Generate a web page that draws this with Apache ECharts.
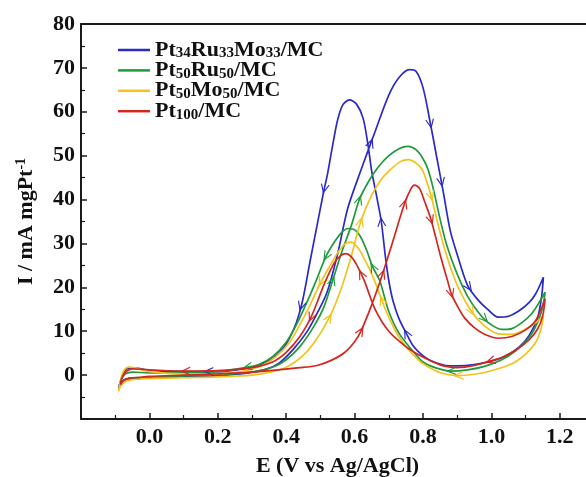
<!DOCTYPE html>
<html>
<head>
<meta charset="utf-8">
<script src="https://cdn.jsdelivr.net/npm/echarts@6/dist/echarts.min.js"></script>
<style>
  html, body { margin: 0; padding: 0; background: #fff; overflow: hidden; }
  #chart { width: 586px; height: 477px; }
</style>
</head>
<body>
<div id="chart"></div>
<script>
// Catalyst names (legend order) and line colours
const catalystNames = ['Pt34Ru33Mo33/MC', 'Pt50Ru50/MC', 'Pt50Mo50/MC', 'Pt100/MC'];
const catalystColors = ['#2a2ac6', '#1f9a3a', '#f3c21c', '#d3261f'];

// Tick labels
const xTickLabels = ['0.0', '0.2', '0.4', '0.6', '0.8', '1.0', '1.2'];
const yTickLabels = ['0', '10', '20', '30', '40', '50', '60', '70', '80'];

// Cyclic voltammograms, [E (V vs Ag/AgCl), I (mA mgPt-1)]
// forward (anodic) scan, E increasing
const ptRuMoFwd = [[-0.09,-3.0],[-0.085,-1.8],[-0.075,-1.1],[-0.06,-0.8],[-0.03,-0.7],[0.0,-0.6],[0.1,-0.4],[0.2,-0.1],[0.28,0.4],[0.34,1.3],[0.38,2.8],[0.42,5.8],[0.46,9.8],[0.49,14.0],[0.52,19.0],[0.55,27.5],[0.58,38.0],[0.62,47.0],[0.66,55.5],[0.70,63.8],[0.73,67.8],[0.76,69.6],[0.78,69.2],[0.80,65.5],[0.82,58.0],[0.84,49.7],[0.86,41.4],[0.88,32.8],[0.90,27.5],[0.93,20.5],[0.96,17.2],[0.99,14.9],[1.02,13.2],[1.05,13.4],[1.08,14.6],[1.11,16.5],[1.13,18.6],[1.152,22.3]];
// reverse (cathodic) scan, E decreasing
const ptRuMoRev = [[1.152,22.3],[1.147,18.0],[1.135,13.0],[1.11,9.0],[1.08,6.3],[1.04,4.3],[1.0,3.2],[0.95,2.4],[0.90,2.1],[0.86,2.3],[0.82,3.4],[0.795,4.7],[0.77,6.8],[0.75,9.7],[0.73,12.8],[0.712,17.0],[0.70,21.5],[0.69,27.0],[0.678,35.0],[0.665,40.5],[0.65,46.5],[0.64,52.0],[0.625,58.5],[0.605,61.8],[0.585,62.7],[0.565,61.5],[0.55,58.0],[0.535,52.0],[0.52,45.5],[0.51,42.0],[0.49,34.0],[0.47,26.0],[0.448,17.0],[0.43,12.0],[0.41,8.5],[0.39,6.0],[0.36,3.8],[0.32,2.3],[0.28,1.5],[0.2,0.8],[0.1,0.8],[0.0,1.1],[-0.04,1.6],[-0.06,1.6],[-0.075,0.6],[-0.085,-1.5],[-0.09,-3.0]];

const ptRuFwd = [[-0.088,-2.6],[-0.08,-1.5],[-0.065,-0.9],[-0.03,-0.6],[0.0,-0.5],[0.1,-0.2],[0.2,0.1],[0.3,0.7],[0.36,1.8],[0.40,3.5],[0.44,6.5],[0.48,11.0],[0.51,15.5],[0.536,21.6],[0.56,27.5],[0.59,34.0],[0.614,40.0],[0.64,44.0],[0.668,47.3],[0.70,50.0],[0.73,51.6],[0.756,52.1],[0.78,51.3],[0.80,49.3],[0.815,46.8],[0.83,42.5],[0.85,35.5],[0.87,29.5],[0.90,23.0],[0.93,18.0],[0.96,14.5],[0.99,12.0],[1.03,10.4],[1.06,10.6],[1.09,12.0],[1.12,14.2],[1.157,18.9]];
const ptRuRev = [[1.157,18.9],[1.15,15.5],[1.135,12.0],[1.11,8.5],[1.07,5.5],[1.03,3.5],[0.98,2.0],[0.93,1.2],[0.883,0.9],[0.84,1.6],[0.80,3.0],[0.77,5.5],[0.73,9.5],[0.70,14.5],[0.673,21.6],[0.653,24.6],[0.635,28.5],[0.615,31.8],[0.595,33.3],[0.58,33.4],[0.56,32.3],[0.54,30.2],[0.516,27.0],[0.49,22.0],[0.46,16.5],[0.43,11.5],[0.40,7.5],[0.36,4.2],[0.32,2.4],[0.286,1.8],[0.2,0.8],[0.1,0.5],[0.0,0.5],[-0.05,0.7],[-0.07,0.3],[-0.082,-1.0],[-0.088,-2.6]];

const ptMoFwd = [[-0.09,-3.7],[-0.082,-2.2],[-0.065,-1.3],[-0.03,-0.9],[0.0,-0.8],[0.1,-0.6],[0.2,-0.4],[0.3,0.0],[0.36,0.8],[0.40,1.8],[0.44,3.8],[0.48,7.2],[0.526,13.1],[0.56,19.5],[0.59,27.0],[0.618,35.0],[0.65,41.0],[0.68,44.8],[0.707,47.0],[0.735,48.7],[0.756,49.1],[0.78,48.3],[0.80,46.5],[0.824,40.7],[0.845,34.0],[0.87,27.0],[0.90,20.5],[0.942,14.5],[0.98,11.2],[1.02,9.4],[1.06,9.3],[1.10,10.5],[1.13,12.0],[1.152,13.5]];
const ptMoRev = [[1.152,13.5],[1.145,10.5],[1.13,7.5],[1.10,4.8],[1.06,2.6],[1.0,1.0],[0.95,0.2],[0.903,-0.1],[0.86,0.3],[0.824,1.5],[0.79,3.2],[0.75,6.5],[0.72,10.0],[0.69,15.0],[0.658,21.6],[0.635,25.5],[0.61,29.0],[0.589,30.3],[0.57,29.8],[0.55,27.8],[0.525,24.5],[0.50,21.0],[0.47,16.0],[0.44,11.5],[0.41,7.5],[0.37,4.2],[0.33,2.2],[0.28,1.0],[0.2,0.3],[0.1,0.3],[0.0,0.8],[-0.04,1.6],[-0.06,1.8],[-0.075,1.0],[-0.085,-1.5],[-0.09,-3.7]];

const ptFwd = [[-0.085,-2.2],[-0.075,-1.2],[-0.06,-0.7],[-0.03,-0.5],[0.0,-0.3],[0.1,0.0],[0.2,0.3],[0.3,0.7],[0.44,1.7],[0.49,2.2],[0.53,3.3],[0.57,5.1],[0.60,7.6],[0.619,10.1],[0.65,16.0],[0.682,23.1],[0.71,30.0],[0.746,39.1],[0.765,42.5],[0.775,43.3],[0.79,42.5],[0.805,39.5],[0.824,35.3],[0.85,27.5],[0.87,22.0],[0.883,18.5],[0.90,15.8],[0.921,13.1],[0.95,10.8],[0.98,9.3],[1.02,8.4],[1.06,8.8],[1.10,10.3],[1.13,12.5],[1.157,17.4]];
const ptRev = [[1.157,17.4],[1.15,13.5],[1.135,10.5],[1.11,8.0],[1.07,5.6],[1.03,4.0],[0.996,3.2],[0.95,2.2],[0.90,1.7],[0.86,2.1],[0.824,3.2],[0.79,4.5],[0.75,6.5],[0.70,10.0],[0.66,15.0],[0.628,21.6],[0.605,25.3],[0.59,27.0],[0.575,27.7],[0.56,27.3],[0.54,25.5],[0.51,20.5],[0.49,16.5],[0.472,13.1],[0.44,8.8],[0.40,5.2],[0.36,3.0],[0.30,1.7],[0.2,1.0],[0.105,0.9],[0.0,1.2],[-0.05,1.4],[-0.072,0.5],[-0.082,-1.0],[-0.085,-2.2]];

// Scan-direction arrows: potentials on each branch where a chevron sits
const ptRuMoArrowsFwd = [0.648, 0.822, 0.854, 0.935];
const ptRuMoArrowsRev = [0.751, 0.678, 0.511, 0.443, 0.172];
const ptRuArrowsFwd = [0.536, 0.614, 0.981];
const ptRuArrowsRev = [0.883, 0.653, 0.516, 0.286];
const ptMoArrowsFwd = [0.526, 0.618, 0.824, 0.942];
const ptMoArrowsRev = [0.903, 0.68, 0.501];
const ptArrowsFwd = [0.619, 0.682, 0.746, 0.824, 0.883];
const ptArrowsRev = [0.996, 0.619, 0.472, 0.105];

const curves = [
  { fwd: ptRuMoFwd, rev: ptRuMoRev, af: ptRuMoArrowsFwd, ar: ptRuMoArrowsRev },
  { fwd: ptRuFwd,   rev: ptRuRev,   af: ptRuArrowsFwd,   ar: ptRuArrowsRev },
  { fwd: ptMoFwd,   rev: ptMoRev,   af: ptMoArrowsFwd,   ar: ptMoArrowsRev },
  { fwd: ptFwd,     rev: ptRev,     af: ptArrowsFwd,     ar: ptArrowsRev }
];

const FONT = '"Liberation Serif", "Times New Roman", serif';
const ARROW = 'path://M0,0 L5,10 L10,0 L8.6,0 L5,7.2 L1.4,0 Z';

function legendText(name) {
  return '{b|' + name.replace(/(\d+)/g, '}{s|$1}{b|') + '}';
}

const chart = echarts.init(document.getElementById('chart'), null, { renderer: 'canvas' });

const axisCommon = {
  type: 'value',
  axisLine: { show: true, onZero: false, lineStyle: { color: '#1a1a1a', width: 2 } },
  splitLine: { show: false }
};

const option = {
  animation: false,
  backgroundColor: '#ffffff',
  grid: { left: 81, right: -8, top: 24, bottom: 58, containLabel: false, outerBoundsMode: 'none' },
  legend: {
    orient: 'vertical',
    left: 113,
    top: 34,
    icon: 'rect',
    itemWidth: 32,
    itemHeight: 2.5,
    itemGap: -1.6,
    data: catalystNames,
    formatter: legendText,
    textStyle: {
      color: '#111',
      rich: {
        b: { fontFamily: FONT, fontWeight: 'bold', fontSize: 22, lineHeight: 18, color: '#111' },
        s: { fontFamily: FONT, fontWeight: 'bold', fontSize: 15, lineHeight: 11, padding: [7, 0, 0, 0], color: '#111' }
      }
    }
  },
  xAxis: [
    Object.assign({}, axisCommon, {
      min: -0.2, max: 1.3, interval: 0.2,
      position: 'bottom',
      axisTick: { show: true, inside: true, length: 6, lineStyle: { color: '#1a1a1a', width: 1.5 } },
      minorTick: { show: true, splitNumber: 2, length: 4, lineStyle: { color: '#1a1a1a', width: 1.2 } },
      axisLabel: {
        margin: 7,
        fontFamily: FONT, fontWeight: 'bold', fontSize: 22, color: '#111',
        formatter: v => { const t = v.toFixed(1); return xTickLabels.includes(t) ? t : ''; }
      },
      name: 'E (V vs Ag/AgCl)',
      nameLocation: 'middle',
      nameGap: 36,
      nameTextStyle: { fontFamily: FONT, fontWeight: 'bold', fontSize: 22, color: '#111' }
    }),
    Object.assign({}, axisCommon, {
      min: -0.2, max: 1.3, interval: 0.2,
      position: 'top',
      axisTick: { show: false },
      axisLabel: { show: false }
    })
  ],
  yAxis: Object.assign({}, axisCommon, {
    min: -10, max: 80, interval: 10,
    axisTick: { show: true, inside: true, length: 6, lineStyle: { color: '#1a1a1a', width: 1.5 } },
    minorTick: { show: true, splitNumber: 2, length: 4, lineStyle: { color: '#1a1a1a', width: 1.2 } },
    axisLabel: {
      margin: 6,
      fontFamily: FONT, fontWeight: 'bold', fontSize: 22, color: '#111',
      formatter: v => { const t = String(Math.round(v)); return yTickLabels.includes(t) ? t : ''; }
    },
    name: '{b|I / mA mgPt}{p|-1}',
    nameLocation: 'middle',
    nameRotate: 90,
    nameGap: 43,
    nameTextStyle: {
      rich: {
        b: { fontFamily: FONT, fontWeight: 'bold', fontSize: 22, lineHeight: 24, color: '#111' },
        p: { fontFamily: FONT, fontWeight: 'bold', fontSize: 14, lineHeight: 14, padding: [0, 0, 10, 0], color: '#111' }
      }
    }
  }),
  series: curves.map((c, k) => ({
    name: catalystNames[k],
    type: 'line',
    xAxisIndex: 0,
    yAxisIndex: 0,
    data: c.fwd.concat(c.rev.slice(1)),
    smooth: 0.3,
    showSymbol: false,
    symbol: 'none',
    lineStyle: { color: catalystColors[k], width: 1.7 },
    itemStyle: { color: catalystColors[k] },
    z: 2 + k
  }))
};

chart.setOption(option);

// Place a chevron on a branch at potential e, oriented along the scan direction
function arrowAt(branch, e) {
  for (let i = 0; i < branch.length - 1; i++) {
    const a = branch[i], b = branch[i + 1];
    const lo = Math.min(a[0], b[0]), hi = Math.max(a[0], b[0]);
    if (e >= lo && e <= hi && hi > lo) {
      const t = (e - a[0]) / (b[0] - a[0]);
      const y = a[1] + t * (b[1] - a[1]);
      const pa = chart.convertToPixel({ gridIndex: 0 }, a);
      const pb = chart.convertToPixel({ gridIndex: 0 }, b);
      const ang = Math.atan2(pb[1] - pa[1], pb[0] - pa[0]) * 180 / Math.PI;
      return { coord: [e, y], symbolRotate: 90 - ang };
    }
  }
  return null;
}

chart.setOption({
  series: curves.map((c, k) => {
    const pts = c.af.map(e => arrowAt(c.fwd, e)).concat(c.ar.map(e => arrowAt(c.rev, e))).filter(Boolean);
    return {
      markPoint: {
        silent: true,
        symbol: ARROW,
        symbolSize: [9, 10],
        itemStyle: { color: catalystColors[k] },
        label: { show: false },
        data: pts.map(p => ({ coord: p.coord, symbolRotate: p.symbolRotate }))
      }
    };
  })
});
</script>
</body>
</html>
